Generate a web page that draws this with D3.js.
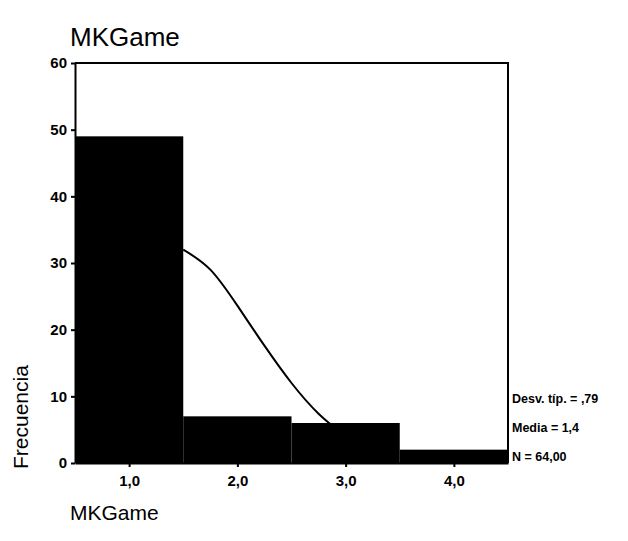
<!DOCTYPE html>
<meta charset="utf-8" />
<style>
  body {
    margin: 0;
    background: #fff;
    font-family: Arial, "Liberation Sans", sans-serif;
  }
  .axis path,
  .axis line {
    stroke: #000;
    stroke-width: 2;
  }
  .axis text {
    font-size: 15px;
    font-weight: bold;
    fill: #000;
  }
  .stats {
    font-size: 12.5px;
    font-weight: bold;
  }
</style>
<body>
  <script src="https://d3js.org/d3.v7.min.js"></script>
  <script>
    // bins (midpoints) and counts
    var binMids = [1, 2, 3, 4];
    var counts = [49, 7, 6, 2];
    var binWidth = 1;

    // fitted normal curve
    var curveX = [1.5, 1.75, 2.0, 2.25, 2.5, 2.75, 3.0];
    var curveY = [32, 29.0, 23.6, 17.6, 12, 7.4, 4];

    var yTicks = [0, 10, 20, 30, 40, 50, 60];
    var xTicks = [1, 2, 3, 4];
    var statLines = ["Desv. típ. = ,79", "Media = 1,4", "N = 64,00"];

    var W = 628, H = 541;
    var margin = { left: 75, right: 508, top: 63, bottom: 463 };

    var svg = d3.select("body").append("svg")
      .attr("width", W)
      .attr("height", H);

    var x = d3.scaleLinear().domain([0.5, 4.5]).range([margin.left, margin.right]);
    var y = d3.scaleLinear().domain([0, 60]).range([margin.bottom, margin.top]);

    var fmt = function (d) { return d3.format(".1f")(d).replace(".", ","); };

    // title
    svg.append("text")
      .attr("x", 70)
      .attr("y", 46)
      .style("font-size", "26px")
      .text("MKGame");

    // normal curve first, the bars cover the part below them
    var line = d3.line()
      .x(function (d, i) { return x(curveX[i]); })
      .y(function (d) { return y(d); })
      .curve(d3.curveNatural);

    svg.append("path")
      .attr("d", line(curveY))
      .attr("fill", "none")
      .attr("stroke", "#000")
      .attr("stroke-width", 2);

    // bars
    svg.selectAll(".bar")
      .data(counts)
      .enter()
      .append("rect")
      .attr("class", "bar")
      .attr("x", function (d, i) { return x(binMids[i] - binWidth / 2); })
      .attr("width", function (d, i) { return x(binMids[i] + binWidth / 2) - x(binMids[i] - binWidth / 2); })
      .attr("y", function (d) { return y(d); })
      .attr("height", function (d) { return y(0) - y(d); })
      .attr("fill", "#000");

    // frame top and right
    svg.append("path")
      .attr("d", "M" + margin.left + "," + margin.top + "H" + margin.right + "V" + margin.bottom)
      .attr("fill", "none")
      .attr("stroke", "#000")
      .attr("stroke-width", 2);

    svg.append("g")
      .attr("class", "axis")
      .attr("transform", "translate(" + margin.left + ",0)")
      .call(d3.axisLeft(y).tickValues(yTicks).tickSize(4).tickSizeOuter(0).tickPadding(4));

    svg.append("g")
      .attr("class", "axis")
      .attr("transform", "translate(0," + margin.bottom + ")")
      .call(d3.axisBottom(x).tickValues(xTicks).tickFormat(fmt).tickSize(4).tickSizeOuter(0).tickPadding(8));

    // y axis title
    svg.append("text")
      .attr("transform", "translate(28,469) rotate(-90)")
      .style("font-size", "21px")
      .text("Frecuencia");

    // x axis title
    svg.append("text")
      .attr("x", 70)
      .attr("y", 520)
      .style("font-size", "21px")
      .text("MKGame");

    // stats box
    svg.selectAll(".stats")
      .data(statLines)
      .enter()
      .append("text")
      .attr("class", "stats")
      .attr("x", margin.right + 4)
      .attr("y", function (d, i) { return 403 + i * 29; })
      .text(function (d) { return d; });
  </script>
</body>
